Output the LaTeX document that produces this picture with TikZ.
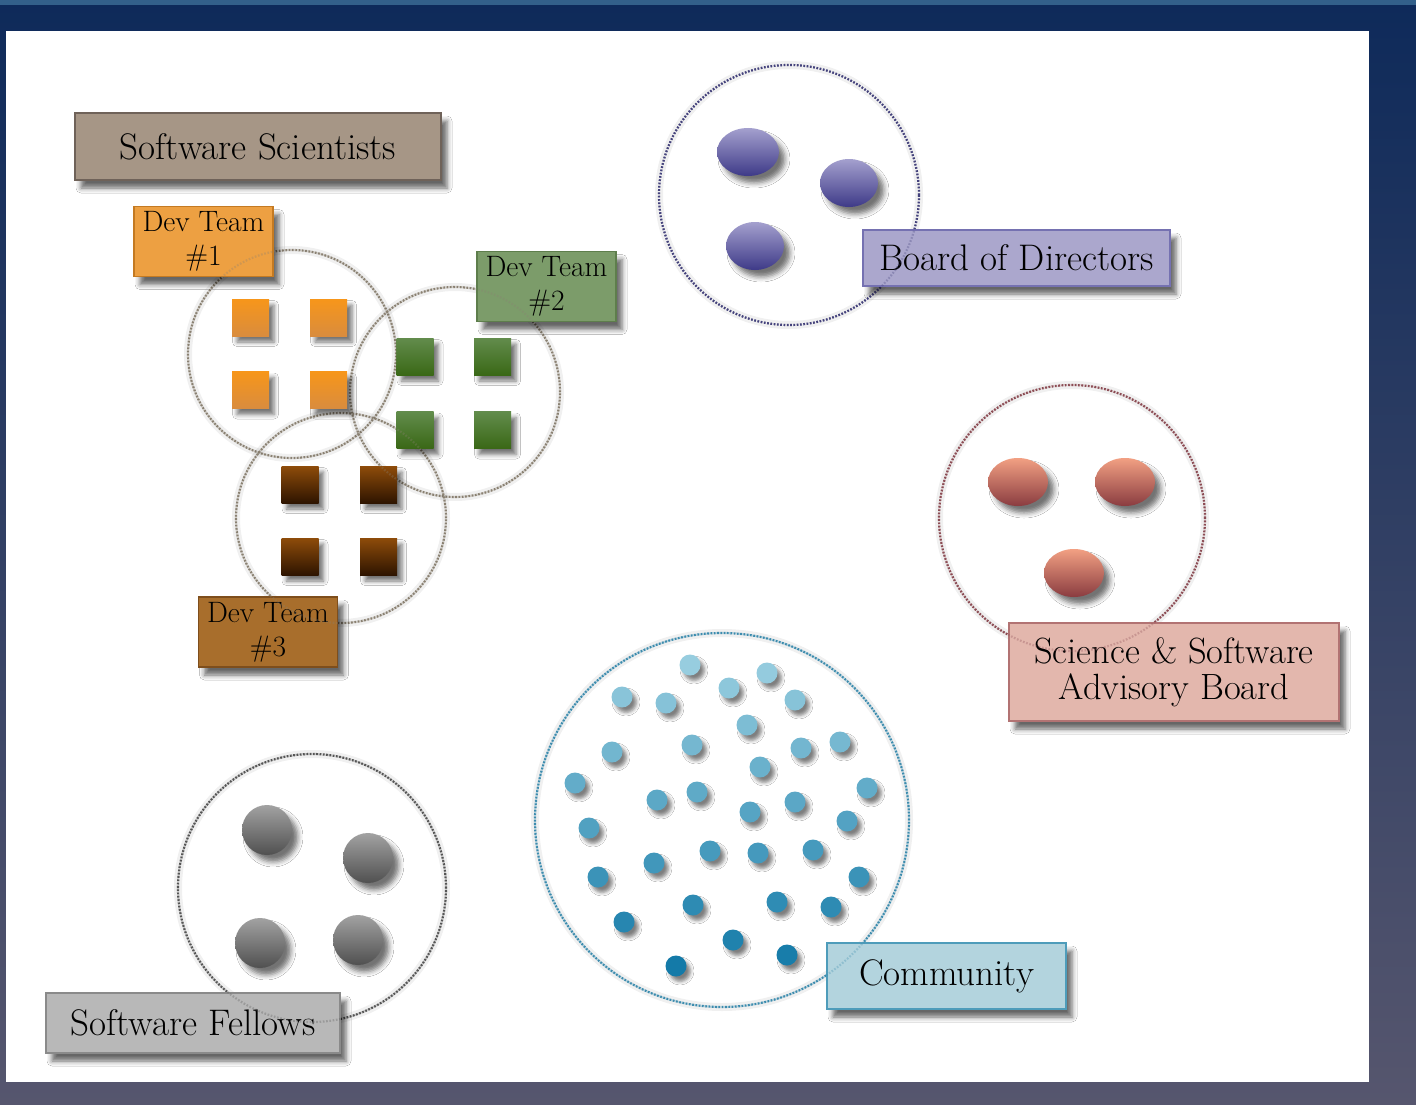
\documentclass[tikz,border=0pt]{standalone}
\usetikzlibrary{shadows.blur,shapes.geometric}
\definecolor{bgtop}{HTML}{0E2A5A}
\definecolor{bgbot}{HTML}{56566E}
\definecolor{strip}{HTML}{33608A}
\definecolor{ssfill}{HTML}{A69686}\definecolor{ssline}{HTML}{6F6259}
\definecolor{d1fill}{HTML}{EDA042}\definecolor{d1line}{HTML}{C47A22}
\definecolor{d2fill}{HTML}{7C9C6A}\definecolor{d2line}{HTML}{5E7E4C}
\definecolor{d3fill}{HTML}{A86E2C}\definecolor{d3line}{HTML}{7E4E1C}
\definecolor{bdfill}{HTML}{ABA7CD}\definecolor{bdline}{HTML}{7571B1}
\definecolor{abfill}{HTML}{E3B7AD}\definecolor{abline}{HTML}{B27373}
\definecolor{cmfill}{HTML}{B3D4DE}\definecolor{cmline}{HTML}{4E9CBA}
\definecolor{sffill}{HTML}{B8B8B8}\definecolor{sfline}{HTML}{8A8A8A}
\definecolor{ortop}{HTML}{F7961A}\definecolor{orbot}{HTML}{D98C3E}
\definecolor{grtop}{HTML}{628C4C}\definecolor{grbot}{HTML}{3A6816}
\definecolor{brtop}{HTML}{8E4C0A}\definecolor{brbot}{HTML}{2E1400}
\definecolor{putop}{HTML}{A4A0CE}\definecolor{pubot}{HTML}{3E3A88}
\definecolor{satop}{HTML}{F2A083}\definecolor{sabot}{HTML}{8A3C40}
\definecolor{gytop}{HTML}{A2A2A2}\definecolor{gybot}{HTML}{505050}
\definecolor{cdl}{HTML}{9ACFE0}\definecolor{cdd}{HTML}{0A74A4}
\definecolor{rdev}{HTML}{8A8172}\definecolor{rbod}{HTML}{44427C}
\definecolor{radv}{HTML}{8C4C54}\definecolor{rcom}{HTML}{3C8CAE}
\definecolor{rsf}{HTML}{555555}
\begin{document}
\begin{tikzpicture}[x=1pt,y=-1pt,
  lbl/.style={draw, line width=1.6pt, inner sep=0pt, align=center,
    font=\fontsize{37}{40}\selectfont,
    blur shadow={shadow xshift=6pt, shadow yshift=-8pt, shadow blur radius=5pt, shadow opacity=60}},
  devlbl/.style={lbl, font=\fontsize{29.5}{34}\selectfont, minimum width=139pt, minimum height=70pt},
  ring/.style={circle, inner sep=0pt, line width=2.2pt, dash pattern=on 1.7pt off 1.6pt,
    preaction={draw=black, draw opacity=0.06, line width=8pt, solid}},
  ringover/.style={line width=2.2pt, dash pattern=on 1.7pt off 1.6pt, opacity=0.3},
  sq/.style={minimum size=37pt, inner sep=0pt,
    blur shadow={shadow xshift=5pt, shadow yshift=-6pt, shadow blur radius=4.5pt, shadow opacity=55}},
  blob/.style={ellipse, inner sep=0pt,
    blur shadow={shadow xshift=6pt, shadow yshift=-7pt, shadow blur radius=5pt, shadow opacity=55}},
  ball/.style={circle, inner sep=0pt, minimum size=50pt,
    blur shadow={shadow xshift=6pt, shadow yshift=-7pt, shadow blur radius=5pt, shadow opacity=55}},
  cdot/.style={circle, inner sep=0pt, minimum size=21pt,
    blur shadow={shadow xshift=4pt, shadow yshift=-5pt, shadow blur radius=3.5pt, shadow opacity=50}}
]
% backdrop and white panel
\useasboundingbox (0,0) rectangle (1416,1105);
\shade[top color=bgtop, bottom color=bgbot] (0,0) rectangle (1416,1105);
\fill[strip] (0,0) rectangle (1416,5);
\fill[white] (6,31) rectangle (1369,1082);

% group rings
\node[ring, draw=rdev, minimum size=208pt] (c1) at (292,354) {};
\node[ring, draw=rdev, minimum size=210pt] (c2) at (455,392) {};
\node[ring, draw=rdev, minimum size=210pt] (c3) at (341,518) {};
\node[ring, draw=rbod, minimum size=260pt] (cb) at (789,195) {};
\node[ring, draw=radv, minimum size=266pt] (ca) at (1072,518) {};
\node[ring, draw=rcom, minimum size=374pt] (cc) at (722,820) {};
\node[ring, draw=rsf, minimum size=268pt] (cf) at (312,888) {};

% dev team squares
\foreach \x/\y [count=\i] in {250.5/317.5, 328.5/317.5, 250.5/390, 328.5/390}
  \node[sq, top color=ortop, bottom color=orbot] (o\i) at (\x,\y) {};
\foreach \x/\y [count=\i] in {415/356.5, 492.5/356.5, 415/430, 492.5/430}
  \node[sq, top color=grtop, bottom color=grbot] (g\i) at (\x,\y) {};
\foreach \x/\y [count=\i] in {300/484.5, 378.5/484.5, 300/556.5, 378.5/556.5}
  \node[sq, top color=brtop, bottom color=brbot] (b\i) at (\x,\y) {};

% board members
\node[blob, minimum width=62pt, minimum height=48pt, top color=putop, bottom color=pubot] (p1) at (748,152) {};
\node[blob, minimum width=58pt, minimum height=48pt, top color=putop, bottom color=pubot] (p2) at (849,183) {};
\node[blob, minimum width=58pt, minimum height=48pt, top color=putop, bottom color=pubot] (p3) at (755,246) {};

% advisory members
\node[blob, minimum width=60pt, minimum height=48pt, top color=satop, bottom color=sabot] (a1) at (1018,482) {};
\node[blob, minimum width=60pt, minimum height=48pt, top color=satop, bottom color=sabot] (a2) at (1125,482) {};
\node[blob, minimum width=60pt, minimum height=48pt, top color=satop, bottom color=sabot] (a3) at (1074,573) {};

% fellows
\foreach \x/\y [count=\i] in {267/830, 368/858, 260/943, 358/940}
  \node[ball, top color=gytop, bottom color=gybot] (f\i) at (\x,\y) {};

% community members
\foreach \x/\y [count=\i] in {690/665, 767/673, 622/697, 666/703, 729/688, 795/700,
    747/725, 692/745, 612/752, 801/748, 840/742, 760/767, 575/783, 867/788,
    657/800, 697/792, 750/812, 795/802, 589/828, 847/821, 710/851, 758/853,
    813/850, 654/863, 598/877, 859/877, 693/905, 777/902, 831/907, 624/922,
    733/940, 787/955, 676/966} {
  \pgfmathtruncatemacro\p{max(0,min(100,(990-\y)/3.3))}
  \node[cdot, fill=cdl!\p!cdd] (m\i) at (\x,\y) {};
}

% labels
\node[lbl, fill=ssfill, draw=ssline, minimum width=366pt, minimum height=67pt] (ss) at (258,146.5) {Software Scientists};
\node[devlbl, fill=d1fill, draw=d1line] (t1) at (203.5,241.5) {Dev Team\\\#1};
\node[devlbl, fill=d2fill, draw=d2line] (t2) at (546.5,286.5) {Dev Team\\\#2};
\node[devlbl, fill=d3fill, draw=d3line] (t3) at (268,632) {Dev Team\\\#3};
\node[lbl, fill=bdfill, draw=bdline, minimum width=307pt, minimum height=56pt] (bod) at (1016.5,258) {Board of Directors};
\node[lbl, fill=abfill, draw=abline, minimum width=330pt, minimum height=98pt,
  font=\fontsize{36.5}{36}\selectfont] (adv) at (1174,672) {Science \& Software\\Advisory Board};
\node[lbl, fill=cmfill, draw=cmline, minimum width=239pt, minimum height=66pt] (com) at (946.5,976) {Community};
\node[lbl, fill=sffill, draw=sfline, minimum width=294pt, minimum height=60pt] (sf) at (193,1023) {Software Fellows};

% rings seen faintly through the labels
\draw[ringover, rdev] (c1.center) circle[radius=104];
\draw[ringover, rdev] (c2.center) circle[radius=105];
\draw[ringover, rdev] (c3.center) circle[radius=105];
\draw[ringover, rbod] (cb.center) circle[radius=130];
\draw[ringover, radv] (ca.center) circle[radius=133];
\draw[ringover, rcom] (cc.center) circle[radius=187];
\draw[ringover, rsf] (cf.center) circle[radius=134];
\end{tikzpicture}
\end{document}
